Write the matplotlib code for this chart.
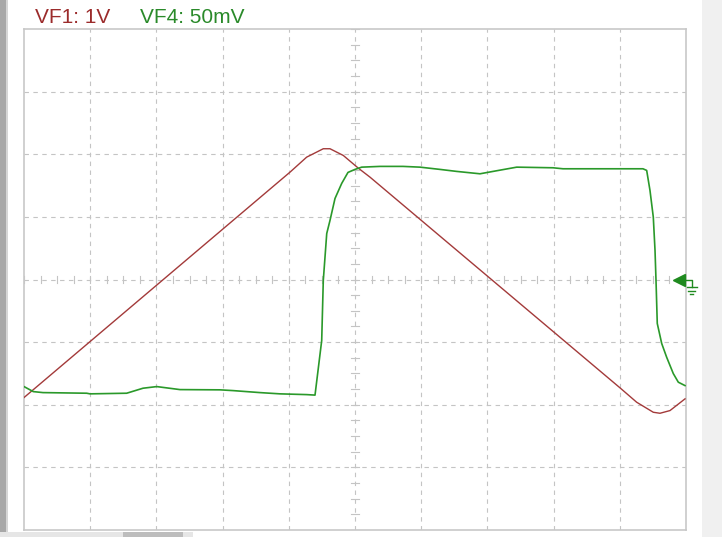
import matplotlib
matplotlib.use('Agg')
import matplotlib.pyplot as plt
from matplotlib.patches import Rectangle
import numpy as np

# time axis in divisions (0..10), 4 x 2 sub-ticks per div on centre axes
ch1_name = 'VF1: 1V'
ch4_name = 'VF4: 50mV'
ch1_scale = 1.0    # V/div
ch4_scale = 50.0   # mV/div

t1 = [0.000, 4.018, 4.270, 4.521, 4.622, 4.823, 5.050, 5.227,
      9.003, 9.255, 9.506, 9.607, 9.758, 9.985]
vf1 = [-1.885, 1.714, 1.954, 2.088, 2.088, 1.981, 1.778, 1.634,
       -1.730, -1.960, -2.120, -2.136, -2.093, -1.906]

t4 = [0.000, 0.140, 0.287, 0.947, 0.997, 1.551, 1.798, 2.005, 2.356, 2.961,
      3.157, 3.565, 3.867, 4.270, 4.396, 4.497, 4.521, 4.573, 4.622, 4.698,
      4.799, 4.894, 5.000, 5.101, 5.378, 5.725, 5.982, 6.284, 6.536, 6.888,
      7.085, 7.443, 7.991, 8.142, 9.350, 9.406, 9.456, 9.506, 9.532, 9.547,
      9.566, 9.633, 9.708, 9.808, 9.884, 9.985]
vf4 = [-85.5, -89.5, -90.3, -90.8, -91.3, -90.8, -86.8, -85.5, -87.9, -88.1,
       -88.7, -90.3, -91.3, -91.9, -92.3, -48.7, -0.8, 36.7, 47.1, 64.7,
       76.7, 85.5, 87.9, 89.7, 90.3, 90.3, 89.7, 87.9, 86.3, 84.4,
       86.3, 89.7, 89.2, 88.4, 88.4, 87.1, 71.1, 49.8, 23.2, -0.8,
       -35.1, -51.1, -62.1, -75.1, -82.0, -84.7]

red = '#a33a3a'
green = '#2a992a'
gridc = '#c4c4c4'

W, H = 722, 537
fig = plt.figure(figsize=(W/100, H/100), dpi=100)
ax = fig.add_axes([24/W, (H-530)/H, 662/W, 501/H])

# frame decorations of the scope window
fig.add_artist(Rectangle((0, 0), 6/W, 1, transform=fig.transFigure, color='#a8a8a8', lw=0))
fig.add_artist(Rectangle((6/W, 0), 2/W, 1, transform=fig.transFigure, color='#d6d6d6', lw=0))
fig.add_artist(Rectangle((702/W, 0), 20/W, 1, transform=fig.transFigure, color='#f0f0f0', lw=0))
fig.add_artist(Rectangle((0, 0), 193/W, 5/H, transform=fig.transFigure, color='#e6e6e6', lw=0))
fig.add_artist(Rectangle((123/W, 0), 60/W, 5/H, transform=fig.transFigure, color='#bdbdbd', lw=0))

ax.set_xlim(0, 10)
ax.set_ylim(-4, 4)
ax.set_xticks([])
ax.set_yticks([])
for s in ax.spines.values():
    s.set_color('#c8c8c8')
    s.set_linewidth(1.2)

for x in range(1, 10):
    ax.axvline(x, color=gridc, lw=0.8, ls=(0, (4, 4)), zorder=1)
for y in range(-3, 4):
    ax.axhline(y, color=gridc, lw=0.8, ls=(0, (4, 4)), zorder=1)

# sub-ticks on the centre cross
for x in np.arange(0, 10.01, 0.25):
    ax.plot([x, x], [-0.06, 0.06], color=gridc, lw=0.8, zorder=1)
for y in np.arange(-4, 4.01, 0.25):
    ax.plot([4.94, 5.06], [y, y], color=gridc, lw=0.8, zorder=1)

ax.plot(t1, np.array(vf1)/ch1_scale, color=red, lw=1.0, zorder=3)
ax.plot(t4, np.array(vf4)/ch4_scale, color=green, lw=1.2, zorder=3)

# ground marker for VF4
ax.plot([9.895], [0], marker='<', ms=9, color='#1f8a1f', clip_on=False, zorder=4)
gk = dict(color='#1f8a1f', lw=1.0, clip_on=False, zorder=4)
ax.plot([9.98, 10.091, 10.091], [0, 0, -0.123], **gk)
ax.plot([10.010, 10.161], [-0.123, -0.123], **gk)
ax.plot([10.035, 10.136], [-0.176, -0.176], **gk)
ax.plot([10.060, 10.110], [-0.228, -0.228], **gk)

fig.text(35/W, 1-22.7/H, ch1_name, color='#9b2b2b', fontsize=15,
         family='Liberation Sans', va='baseline')
fig.text(140/W, 1-22.7/H, ch4_name, color='#2a8a2a', fontsize=15,
         family='Liberation Sans', va='baseline')

fig.savefig('out.png', dpi=100)
